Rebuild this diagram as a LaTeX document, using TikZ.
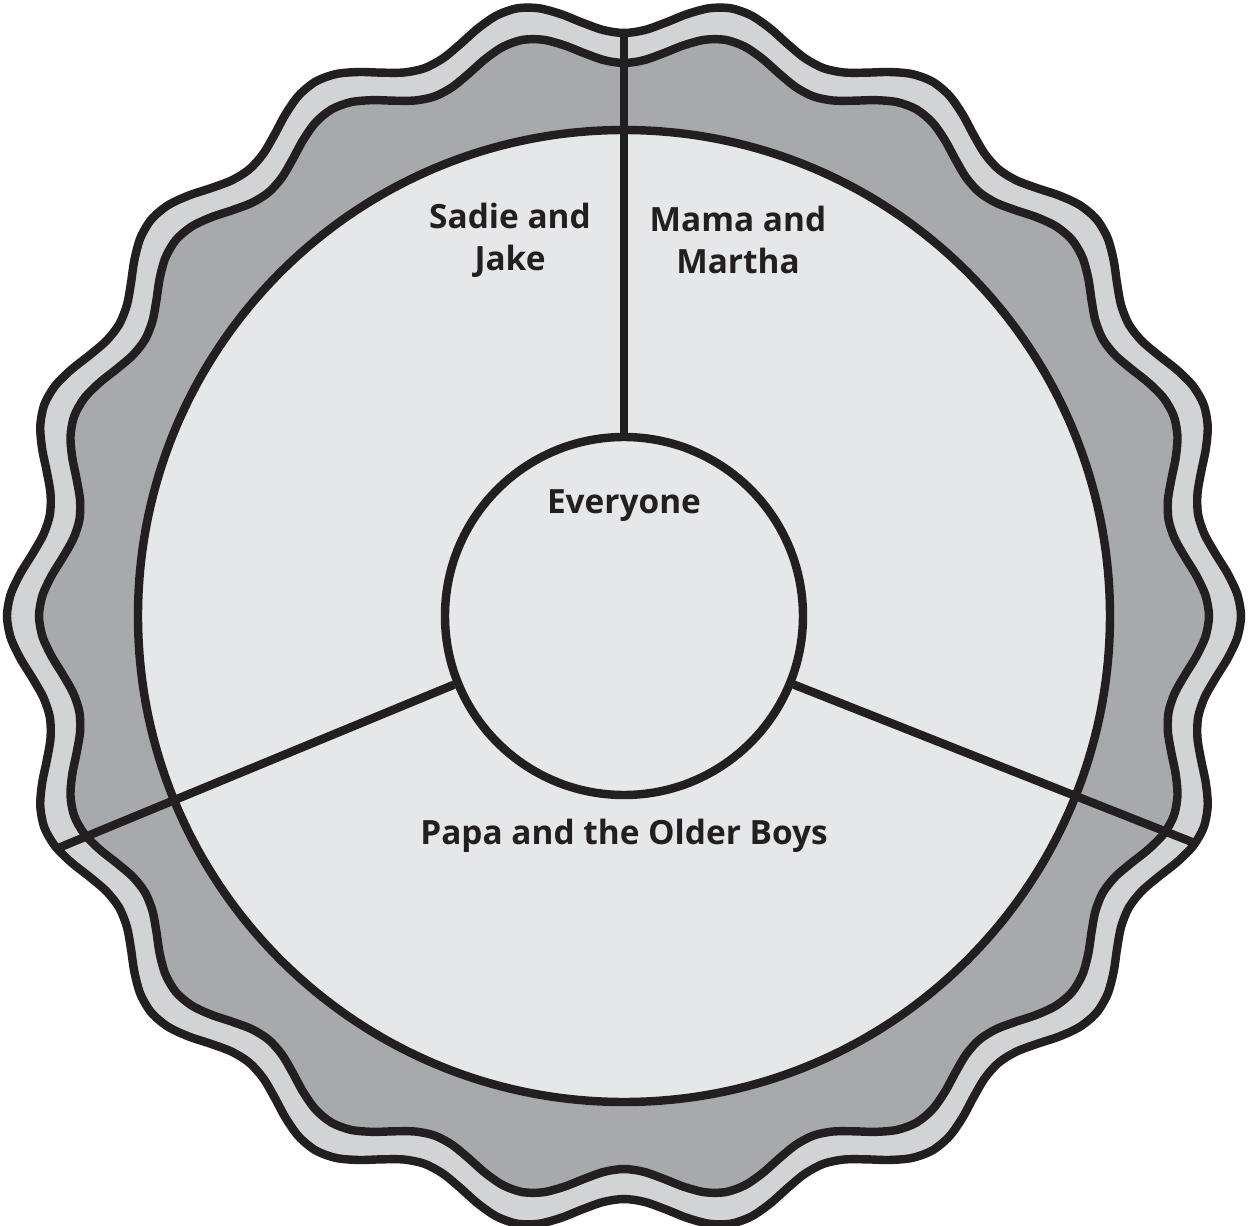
\documentclass[tikz,border=0pt]{standalone}
\usepackage{fontspec}
\setmainfont{Open Sans}
\definecolor{pieline}{RGB}{35, 31, 32}
\definecolor{piecrust}{RGB}{209, 211, 212}
\definecolor{pieedge}{RGB}{167, 169, 172}
\definecolor{piefill}{RGB}{230, 231, 232}
\usetikzlibrary{positioning}

\begin{document}
\begin{tikzpicture}[line width=2.4pt, color=pieline, every node/.style={font=\bfseries\fontsize{9.5}{12}\selectfont, align=center}]
        \useasboundingbox (-6.24,-6.10) rectangle (6.25,6.16);
        \filldraw[fill=piecrust] plot[domain=0:358, samples=180, smooth cycle] (\x:{6.0-0.17*cos(18*(\x-90))});
        \filldraw[fill=pieedge] plot[domain=0:358, samples=180, smooth cycle] (\x:{5.69-0.16*cos(18*(\x-90))});
        \filldraw[fill=piefill] (0,0) circle (4.86);
        \node[circle, draw, minimum size=3.58cm, inner sep=0pt] (hub) at (0,0) {};
        \coordinate (rimtop) at (90:5.83);
        \coordinate (rimleft) at (202.3:{6.0-0.17*cos(18*(202.3-90))});
        \coordinate (rimright) at (338.3:{6.0-0.17*cos(18*(338.3-90))});
        \draw (hub.north) -- (rimtop);
        \draw (hub.202.3) -- (rimleft);
        \draw (hub.338.3) -- (rimright);
        \node (sadie) at (-1.14,3.76) {Sadie and\\Jake};
        \node (mama) at (1.14,3.76) {Mama and\\Martha};
        \node (everyone) at (0,1.10) {Everyone};
        \node (papa) at (0,-2.20) {Papa and the Older Boys};
      \end{tikzpicture}
\end{document}
